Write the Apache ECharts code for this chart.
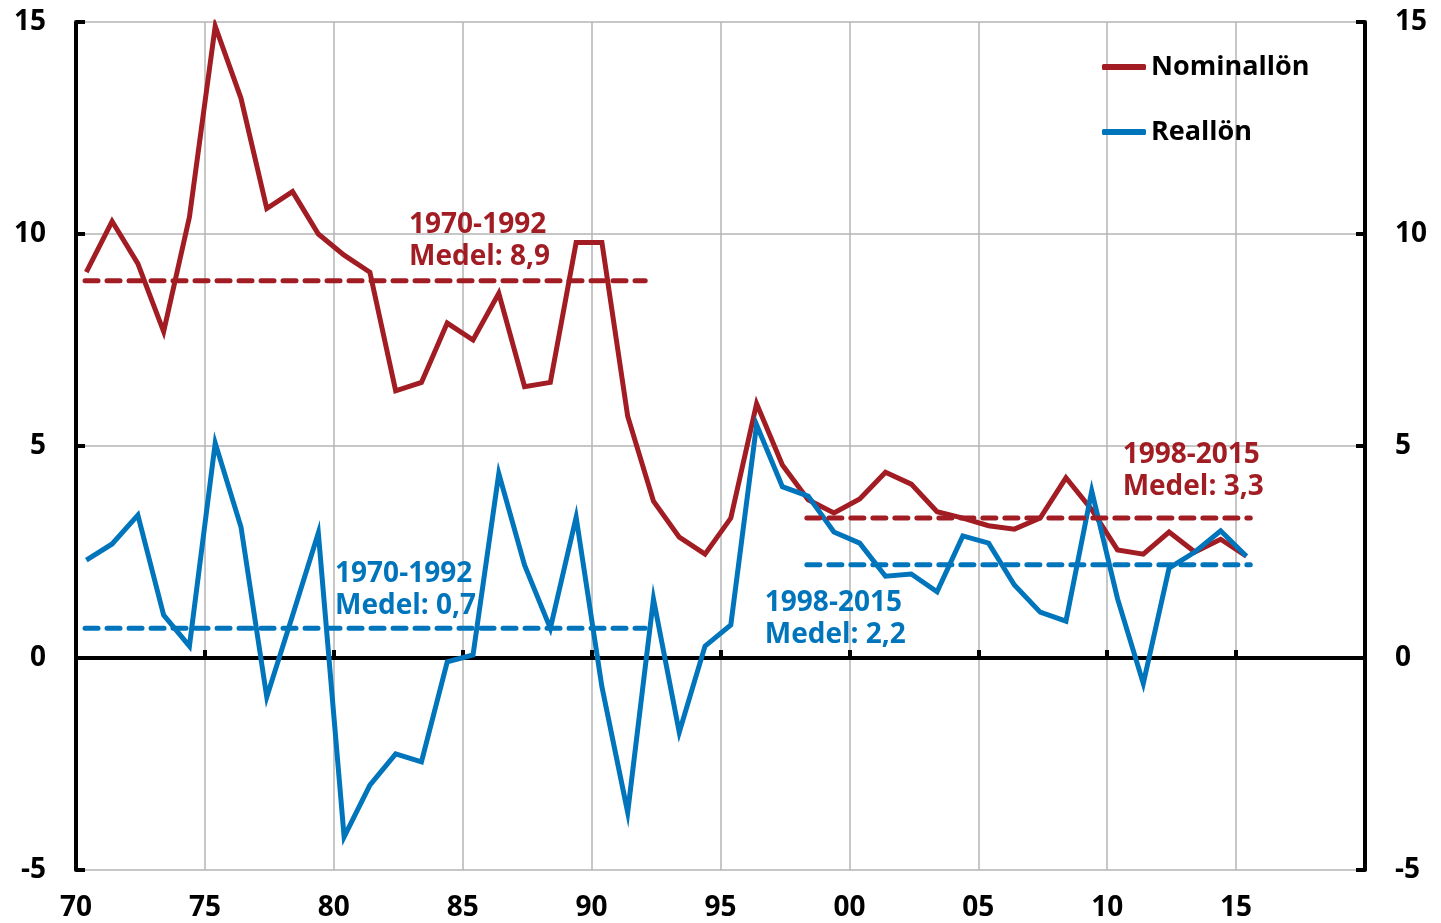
<!DOCTYPE html>
<html>
<head>
<meta charset="utf-8">
<script src="https://cdn.jsdelivr.net/npm/echarts@6/dist/echarts.min.js"></script>
<style>
html,body{margin:0;padding:0;background:#fff;}
#c{width:1441px;height:923px;}
</style>
</head>
<body>
<div id="c"></div>
<script>
// ---- Data ----
const years = [1970,1971,1972,1973,1974,1975,1976,1977,1978,1979,1980,1981,1982,1983,1984,1985,1986,1987,1988,1989,1990,1991,1992,1993,1994,1995,1996,1997,1998,1999,2000,2001,2002,2003,2004,2005,2006,2007,2008,2009,2010,2011,2012,2013,2014,2015];
const nominal = [9.1,10.3,9.3,7.7,10.4,14.9,13.2,10.6,11.0,10.0,9.5,9.1,6.3,6.5,7.9,7.5,8.6,6.4,6.5,9.8,9.8,5.7,3.7,2.85,2.45,3.3,6.0,4.55,3.73,3.42,3.75,4.38,4.1,3.45,3.3,3.12,3.04,3.3,4.25,3.5,2.55,2.45,2.97,2.5,2.8,2.4];
const real = [2.31,2.69,3.37,1.01,0.28,5.07,3.09,-0.92,1.0,2.95,-4.22,-3.0,-2.26,-2.45,-0.09,0.07,4.35,2.19,0.7,3.32,-0.68,-3.64,1.39,-1.75,0.28,0.78,5.5,4.04,3.82,2.97,2.71,1.93,1.98,1.56,2.88,2.71,1.72,1.08,0.87,3.94,1.4,-0.6,2.12,2.5,3.0,2.4];
const pointOffset = 0.4; // observations plotted within the year
const seriesNames = ['Nominallön','Reallön'];
const colors = ['#a21d23','#0075bc'];
// mean periods: [start, end] on the time axis
const meanPeriods = [[1970.35,1992.08],[1998.35,2015.55]];
const nominalMeans = [8.9,3.3];
const realMeans = [0.7,2.2];
const periodLabels = ['1970-1992','1998-2015'];
// annotation anchors [x, y] (top-left of text)
const nominalNotePos = [[1982.92,10.6],[2010.6,5.16]];
const realNotePos = [[1980.05,2.36],[1996.72,1.67]];
const xTicks = {min:1970,max:2020,interval:5};
const yTicks = {min:-5,max:15,interval:5};

const FONT = '"Open Sans", "Noto Sans", sans-serif';
const fmtDec = v => String(v).replace('.', ',');

function meanSeries(means, color){
  return means.map((m,i)=>({
    type:'line', silent:true, symbol:'none', z:4,
    data:[[meanPeriods[i][0], m],[meanPeriods[i][1], m]],
    lineStyle:{color:color,width:5,type:[13,9],cap:'round'}
  }));
}
function noteSeries(pos, means, color){
  return {
    type:'scatter', silent:true, symbolSize:0, z:6,
    itemStyle:{opacity:1, color:color},
    data: pos.map((p,i)=>({value:p, name: periodLabels[i] + '\nMedel: ' + fmtDec(means[i])})),
    label:{show:true, opacity:1, position:[0,0], align:'left', verticalAlign:'top',
      formatter: p => p.name, color:color, fontFamily:FONT, fontWeight:'bold', fontSize:28, lineHeight:32}
  };
}

const chart = echarts.init(document.getElementById('c'), null, {renderer:'canvas'});
chart.setOption({
  animation:false,
  backgroundColor:'#fff',
  grid:{left:76,right:76,top:22,bottom:53},
  legend:{
    data:seriesNames, left:1097, top:46, orient:'vertical', itemGap:33,
    icon:'roundRect', itemWidth:44, itemHeight:6,
    textStyle:{fontFamily:FONT,fontWeight:'bold',fontSize:27,color:'#000',lineHeight:32}
  },
  xAxis:[
    {type:'value', min:xTicks.min, max:xTicks.max, interval:xTicks.interval, position:'bottom',
     axisLine:{show:false}, axisTick:{show:false},
     axisLabel:{margin:24, color:'#000', fontFamily:FONT, fontWeight:'bold', fontSize:28,
       formatter:v => v===xTicks.max ? '' : String(v%100).padStart(2,'0')},
     splitLine:{show:true, lineStyle:{color:'#b5b5b5', width:1.5}}},
    {type:'value', min:xTicks.min, max:xTicks.max, interval:xTicks.interval, position:'bottom',
     axisLine:{show:true, onZero:true, onZeroAxisIndex:0, lineStyle:{color:'#000', width:4}},
     axisTick:{show:true, inside:true, length:8, lineStyle:{color:'#000', width:4}},
     axisLabel:{show:false}, splitLine:{show:false}}
  ],
  yAxis:[
    {type:'value', min:yTicks.min, max:yTicks.max, interval:yTicks.interval, position:'left',
     axisLine:{show:true, onZero:false, lineStyle:{color:'#000', width:4}},
     axisTick:{show:true, inside:true, length:9, lineStyle:{color:'#000', width:4}},
     axisLabel:{margin:30, color:'#000', fontFamily:FONT, fontWeight:'bold', fontSize:28},
     splitLine:{show:true, lineStyle:{color:'#b5b5b5', width:1.5}}},
    {type:'value', min:yTicks.min, max:yTicks.max, interval:yTicks.interval, position:'right',
     axisLine:{show:true, onZero:false, lineStyle:{color:'#000', width:4}},
     axisTick:{show:true, inside:true, length:9, lineStyle:{color:'#000', width:4}},
     axisLabel:{margin:30, color:'#000', fontFamily:FONT, fontWeight:'bold', fontSize:28},
     splitLine:{show:false}}
  ],
  series:[
    {name:seriesNames[0], type:'line', symbol:'none', z:3, color:colors[0],
     data:years.map((y,i)=>[y+pointOffset, nominal[i]]),
     lineStyle:{color:colors[0], width:5, join:'miter'}},
    {name:seriesNames[1], type:'line', symbol:'none', z:3, color:colors[1],
     data:years.map((y,i)=>[y+pointOffset, real[i]]),
     lineStyle:{color:colors[1], width:5, join:'miter'}},
    ...meanSeries(nominalMeans, colors[0]),
    ...meanSeries(realMeans, colors[1]),
    noteSeries(nominalNotePos, nominalMeans, colors[0]),
    noteSeries(realNotePos, realMeans, colors[1])
  ]
});
</script>
</body>
</html>
